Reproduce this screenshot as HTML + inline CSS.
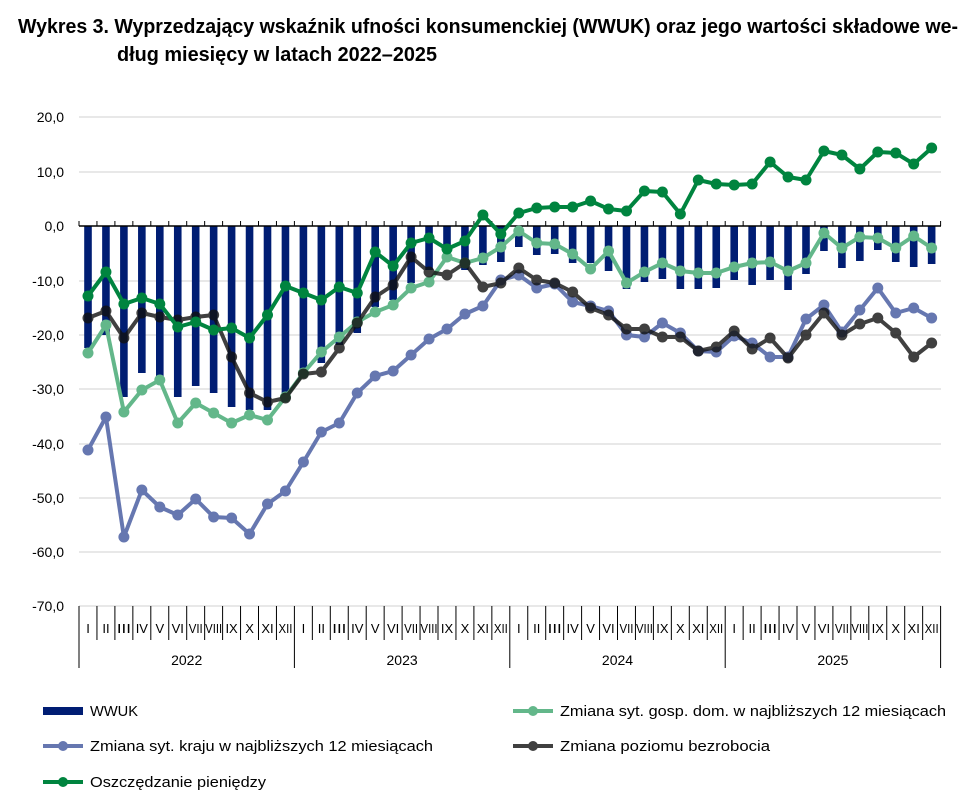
<!DOCTYPE html>
<html><head><meta charset="utf-8"><style>
body{margin:0;background:#fff;width:970px;height:802px;overflow:hidden;font-family:"Liberation Sans",sans-serif;}
svg text{font-family:"Liberation Sans",sans-serif;}
</style></head><body>
<svg id="c" width="970" height="802" xmlns="http://www.w3.org/2000/svg">
<text x="18" y="33" font-size="20" font-weight="bold" fill="#000" textLength="940" lengthAdjust="spacingAndGlyphs">Wykres 3. Wyprzedzający wskaźnik ufności konsumenckiej (WWUK) oraz jego wartości składowe we-</text>
<text x="117" y="61" font-size="20" font-weight="bold" fill="#000" textLength="320" lengthAdjust="spacingAndGlyphs">dług miesięcy w latach 2022–2025</text>
</svg>
<script>
const s=document.getElementById('c');const NS='http://www.w3.org/2000/svg';
function el(t,a,txt){const e=document.createElementNS(NS,t);for(const k in a)e.setAttribute(k,a[k]);if(txt!==undefined)e.textContent=txt;s.appendChild(e);return e;}
const grid=[117,172,226,281,335,389,444,498,552,606];const labs=['20,0','10,0','0,0','-10,0','-20,0','-30,0','-40,0','-50,0','-60,0','-70,0'];
grid.forEach((y,i)=>{if(i!=2)el('line',{x1:79,x2:941,y1:y,y2:y,stroke:'#d9d9d9','stroke-width':1.3});el('text',{x:64,y:y+5,'font-size':14,'text-anchor':'end',fill:'#000'},labs[i]);});
const X=i=>88+17.95*i;
const bars=[348,335,397,373,377,397,386,393,407,410,410,393,373,363,345,333,307,300,283,270,257,270,265,262,247,255,254,263,263,271,289,282,279,289,289,288,280,285,280,290,274,251,268,261,250,262,267,264];
bars.forEach((b,i)=>el('rect',{x:X(i)-3.8,y:226,width:7.6,height:b-226,fill:'#001d73'}));
el('line',{x1:79,x2:941,y1:226,y2:226,stroke:'#000','stroke-width':1.5});
for(let i=0;i<=48;i++){const x=79+17.95*i;el('line',{x1:x,x2:x,y1:221,y2:226,stroke:'#000','stroke-width':1});
el('line',{x1:x,x2:x,y1:606,y2:(i%12==0)?668:640,stroke:'#000','stroke-width':1});}
const mon=['I','II','III','IV','V','VI','VII','VIII','IX','X','XI','XII'];
for(let i=0;i<48;i++){const a={x:X(i),y:633,'font-size':13,'text-anchor':'middle',fill:'#000'};if(mon[i%12].length>=3){a.textLength=mon[i%12].length==4?17:14;a.lengthAdjust='spacingAndGlyphs';}el('text',a,mon[i%12]);}
['2022','2023','2024','2025'].forEach((y,k)=>el('text',{x:79+17.95*(12*k+6),y:665,'font-size':14,'text-anchor':'middle',fill:'#000'},y));
function series(v,col,op){const pts=v.map((y,i)=>X(i)+','+y).join(' ');const g=el('g',{opacity:op||1});
const p=document.createElementNS(NS,'polyline');p.setAttribute('points',pts);p.setAttribute('fill','none');p.setAttribute('stroke',col);p.setAttribute('stroke-width',4);p.setAttribute('stroke-linejoin','round');g.appendChild(p);
v.forEach((y,i)=>{const c=document.createElementNS(NS,'circle');c.setAttribute('cx',X(i));c.setAttribute('cy',y);c.setAttribute('r',5.5);c.setAttribute('fill',col);g.appendChild(c);});}
const blue=[450,417,537,490,507,515,499,517,518,534,504,491,462,432,423,393,376,371,355,339,329,314,306,280,275,288,284,302,306,311,335,337,323,333,351,352,336,343,357,357,319,305,332,310,288,313,308,318];
const light=[353,325,412,390,380,423,403,413,423,415,420,397,373,352,337,322,312,305,288,282,257,263,258,247,231,243,244,254,269,251,283,272,263,271,273,273,267,263,262,271,263,233,248,237,238,248,236,248];
const black=[318,311,338,313,317,320,317,315,357,393,402,398,374,372,348,323,297,285,257,272,275,263,287,283,268,280,283,292,308,315,329,329,337,337,351,347,331,349,338,358,335,313,335,324,318,333,357,343];
const green=[296,272,304,298,304,327,322,330,328,338,315,286,293,300,287,293,252,266,243,238,249,241,215,234,213,208,207,207,201,209,211,191,192,214,180,184,185,184,162,177,180,151,155,169,152,153,164,148];
series(blue,'#6677b0');series(light,'#63b78a');series(black,'#111',0.8);series(green,'#00843f');
el('rect',{x:43,y:707,width:40,height:8,fill:'#001d73'});el('text',{x:90,y:716,'font-size':15,fill:'#000',textLength:48,lengthAdjust:'spacingAndGlyphs'},'WWUK');
function leg(x,y,col,t,op,w){const g=el('g',{opacity:op||1});const l=document.createElementNS(NS,'line');l.setAttribute('x1',x);l.setAttribute('x2',x+40);l.setAttribute('y1',y);l.setAttribute('y2',y);l.setAttribute('stroke',col);l.setAttribute('stroke-width',4);g.appendChild(l);
const c=document.createElementNS(NS,'circle');c.setAttribute('cx',x+20);c.setAttribute('cy',y);c.setAttribute('r',5);c.setAttribute('fill',col);g.appendChild(c);
el('text',{x:x+47,y:y+5,'font-size':15,fill:'#000',textLength:w,lengthAdjust:'spacingAndGlyphs'},t);}
leg(513,711,'#63b78a','Zmiana syt. gosp. dom. w najbliższych 12 miesiącach',1,386);
leg(43,746,'#6677b0','Zmiana syt. kraju w najbliższych 12 miesiącach',1,343);
leg(513,746,'#111','Zmiana poziomu bezrobocia',0.8,210);
leg(43,782,'#00843f','Oszczędzanie pieniędzy',1,176);
</script>
</body></html>
